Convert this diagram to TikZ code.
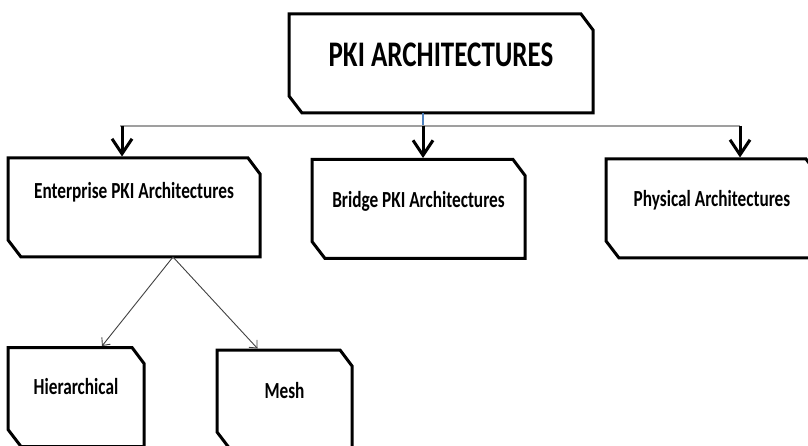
\documentclass[tikz,border=0pt]{standalone}
\usepackage{fontspec}
\setmainfont[FakeStretch=0.75]{Carlito}
\usetikzlibrary{arrows.meta,positioning}
\definecolor{stemblue}{RGB}{79,129,189}

\begin{document}
\begin{tikzpicture}[x=1pt, y=-1pt, line width=3pt,
  box/.style={rectangle, inner sep=0pt, outer sep=0pt, minimum height=99pt,
    append after command={\pgfextra{\draw[line join=miter]
      (\tikzlastnode.north west) -- ([xshift=-12pt]\tikzlastnode.north east)
      -- ([yshift=-16pt]\tikzlastnode.north east) -- (\tikzlastnode.south east)
      -- ([xshift=13pt]\tikzlastnode.south west) -- ([yshift=17pt]\tikzlastnode.south west)
      -- cycle;}}},
  lbl/.style={font=\bfseries\fontsize{23}{26}\selectfont, inner sep=0pt},
  busline/.style={gray!75, line width=1.8pt},
  down/.style={-{Straight Barb[length=15pt,width=20pt]}},
  branch/.style={gray!50!black, line width=0.9pt, -{Straight Barb[length=6pt,width=11pt]}}]
  \useasboundingbox (0,0) rectangle (808,446);

  % boxes
  \node[box, minimum width=304pt] (root) at (441,63.5) {};
  \node[box, minimum width=252pt] (enterprise) at (134,207.5) {};
  \node[box, minimum width=213pt] (bridge) at (418.5,209) {};
  \node[box, minimum width=212pt] (physical) at (712,208.5) {};
  \node[box, minimum width=136pt] (hier) at (76,397) {};
  \node[box, minimum width=135pt] (mesh) at (284.5,399.5) {};

  % texts
  \node[lbl, font=\bfseries\fontsize{36}{40}\selectfont, below=53pt of root.north, anchor=base] (root-txt) {PKI ARCHITECTURES};
  \node[lbl, below=41pt of enterprise.north, anchor=base] (enterprise-txt) {Enterprise PKI Architectures};
  \node[lbl, below=48pt of bridge.north, anchor=base] (bridge-txt) {Bridge PKI Architectures};
  \node[lbl, below=48pt of physical.north, anchor=base] (physical-txt) {Physical Architectures};
  \node[lbl, below=47pt of hier.north, anchor=base] (hier-txt) {Hierarchical};
  \node[lbl, below=48pt of mesh.north, anchor=base] (mesh-txt) {Mesh};

  % bus and arrows
  \coordinate (bus-top) at (423,126);
  \draw[stemblue, line width=2pt] (root.south -| bus-top) -- (bus-top);
  \foreach \x/\nm in {122/enterprise, 423/bridge, 740/physical}
    \coordinate (bus-\nm) at (\x,126);
  \draw[busline] ([xshift=-2pt]bus-enterprise) -- (bus-physical);
  \foreach \nm in {enterprise, bridge, physical}
    \draw[down] (bus-\nm) -- ([yshift=1.5pt]bus-\nm |- \nm.north);

  % branches
  \coordinate (fork) at ([xshift=39pt]enterprise.south);
  \draw[branch] (fork) -- ([xshift=26pt,yshift=1.5pt]hier.north);
  \draw[branch] (fork) -- ([xshift=-27pt,yshift=1.5pt]mesh.north);
\end{tikzpicture}
\end{document}
